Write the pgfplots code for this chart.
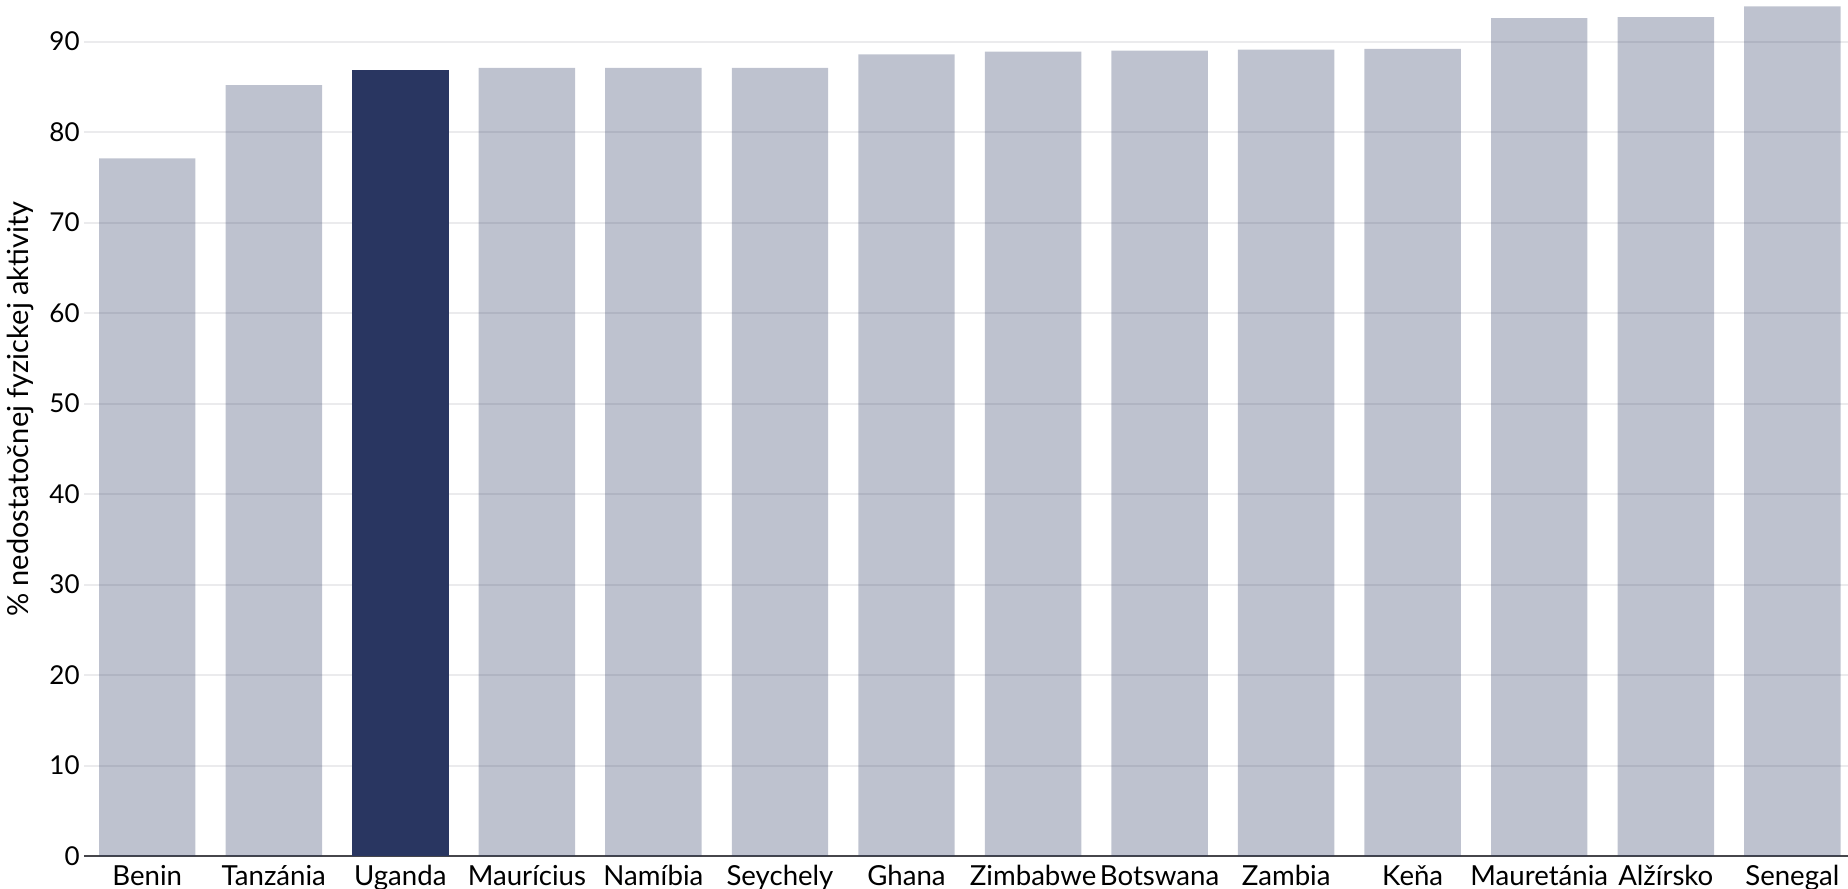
\documentclass[border=0pt]{standalone}
\usepackage{fontspec}
\setmainfont{Lato}
\usepackage{pgfplots}
\pgfplotsset{compat=1.18}
\definecolor{navy}{RGB}{41,54,97}
\definecolor{gridc}{RGB}{235,235,237}
\definecolor{axisc}{RGB}{70,70,75}
\begin{document}
\begin{tikzpicture}
\begin{axis}[
  scale only axis,
  width=882pt, height=428pt,
  xmin=-0.5, xmax=13.44,
  ymin=0, ymax=94.6,
  axis x line*=bottom, axis y line*=left,
  y axis line style={draw=none},
  x axis line style={draw=axisc, line width=1pt},
  major tick length=0pt,
  ytick={0,10,...,90},
  ymajorgrids,
  grid style={draw=gridc, line width=1pt},
  xtick={0,...,13},
  xticklabels={Benin,Tanzánia,Uganda,Maurícius,Namíbia,Seychely,Ghana,Zimbabwe,Botswana,Zambia,Keňa,Mauretánia,Alžírsko,Senegal},
  /pgf/number format/assume math mode=true,
  xticklabel style={inner sep=1pt, yshift=-3.5pt, font=\fontsize{13.8}{15}\selectfont},
  yticklabel style={inner sep=1pt, xshift=-1pt, font=\fontsize{13}{15}\selectfont},
  ylabel={\% nedostatočnej fyzickej aktivity},
  every axis y label/.style={at={(axis description cs:-0.036,0.522)}, rotate=90, anchor=center, font=\fontsize{14.5}{16}\selectfont},
  ybar, bar width=0.762, bar shift=0pt,
  clip=false,
]
\addplot[draw=none, fill=navy, fill opacity=0.3] coordinates {
(0,77.1) (1,85.2) (3,87.1) (4,87.1) (5,87.1) (6,88.6) (7,88.9) (8,89.0) (9,89.1) (10,89.2) (11,92.6) (12,92.7) (13,93.9)};
\addplot[draw=none, fill=navy] coordinates {(2,86.9)};
\end{axis}
\pgfresetboundingbox
\useasboundingbox (-42pt,-16.5pt) rectangle (882pt,428pt);
\end{tikzpicture}
\end{document}
